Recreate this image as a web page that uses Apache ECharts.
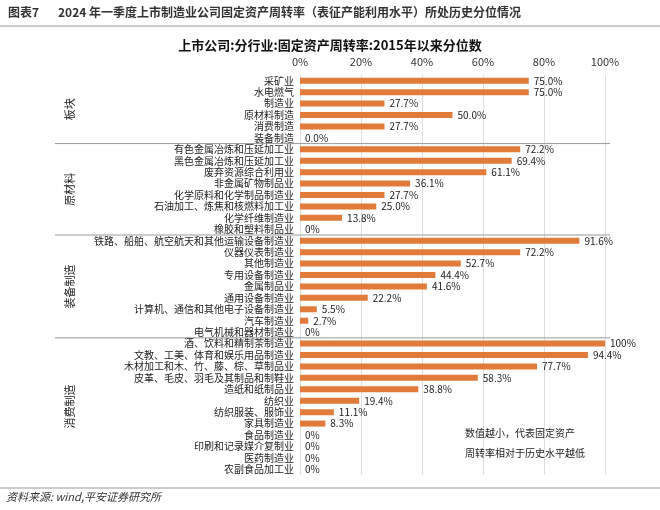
<!DOCTYPE html>
<html><head><meta charset="utf-8">
<script src="https://cdn.jsdelivr.net/npm/echarts@6/dist/echarts.min.js"></script>
<style>body{margin:0;background:#fff}#c{width:660px;height:510px}</style></head>
<body><div id="c"></div>
<script>
const categories=['采矿业','水电燃气','制造业','原材料制造','消费制造','装备制造',
'有色金属冶炼和压延加工业','黑色金属冶炼和压延加工业','废弃资源综合利用业','非金属矿物制品业','化学原料和化学制品制造业','石油加工、炼焦和核燃料加工业','化学纤维制造业','橡胶和塑料制品业',
'铁路、船舶、航空航天和其他运输设备制造业','仪器仪表制造业','其他制造业','专用设备制造业','金属制品业','通用设备制造业','计算机、通信和其他电子设备制造业','汽车制造业','电气机械和器材制造业',
'酒、饮料和精制茶制造业','文教、工美、体育和娱乐用品制造业','木材加工和木、竹、藤、棕、草制品业','皮革、毛皮、羽毛及其制品和制鞋业','造纸和纸制品业','纺织业','纺织服装、服饰业','家具制造业','食品制造业','印刷和记录媒介复制业','医药制造业','农副食品加工业'];
const values=[75.0,75.0,27.7,50.0,27.7,0.0,
72.2,69.4,61.1,36.1,27.7,25.0,13.8,0,
91.6,72.2,52.7,44.4,41.6,22.2,5.5,2.7,0,
100,94.4,77.7,58.3,38.8,19.4,11.1,8.3,0,0,0,0];
const valueLabels=['75.0%','75.0%','27.7%','50.0%','27.7%','0.0%',
'72.2%','69.4%','61.1%','36.1%','27.7%','25.0%','13.8%','0%',
'91.6%','72.2%','52.7%','44.4%','41.6%','22.2%','5.5%','2.7%','0%',
'100%','94.4%','77.7%','58.3%','38.8%','19.4%','11.1%','8.3%','0%','0%','0%','0%'];
const groups=[['板块',0,6],['原材料',6,14],['装备制造',14,23],['消费制造',23,35]];
const xTicks=[0,20,40,60,80,100];
const chart=echarts.init(document.getElementById('c'));
const F='"Noto Sans CJK SC",sans-serif';
chart.setOption({
 animation:false,
 grid:{left:300,right:55,top:75,bottom:35},
 xAxis:{type:'value',position:'top',min:0,max:100,interval:20,
  axisLabel:{formatter:v=>v+'%',fontSize:11,color:'#333',fontFamily:F},
  splitLine:{lineStyle:{color:'#ddd'}},axisLine:{show:false},axisTick:{show:false}},
 yAxis:{type:'category',inverse:true,data:categories,
  axisLabel:{fontSize:10,color:'#222',fontFamily:F,margin:6,interval:0},
  axisTick:{show:false},axisLine:{show:false}},
 series:[{type:'bar',data:values,barWidth:6,itemStyle:{color:'#E07B39'},
  label:{show:true,position:'right',fontSize:10,color:'#222',fontFamily:F,
   formatter:p=>valueLabels[p.dataIndex]}}]
});
const gr=[
 {type:'text',left:8,top:6,style:{text:'图表7',font:'bold 12px '+F,fill:'#333'}},
 {type:'text',left:58,top:6,style:{text:'2024 年一季度上市制造业公司固定资产周转率（表征产能利用水平）所处历史分位情况',font:'bold 12px '+F,fill:'#333'}},
 {type:'line',shape:{x1:0,y1:26,x2:660,y2:26},style:{stroke:'#999',lineWidth:1}},
 {type:'text',x:330,y:45,style:{text:'上市公司:分行业:固定资产周转率:2015年以来分位数',font:'bold 13px '+F,fill:'#111',align:'center',verticalAlign:'middle'}},
 {type:'line',shape:{x1:0,y1:488,x2:660,y2:488},style:{stroke:'#999',lineWidth:1}},
 {type:'text',left:6,top:491,style:{text:'资料来源: wind,平安证券研究所',font:'italic 11px '+F,fill:'#333'}},
 {type:'text',x:465,y:423,style:{text:'数值越小，代表固定资产\n周转率相对于历史水平越低',font:'10px '+F,fill:'#222',lineHeight:20}}
];
const yb=i=>{const a=chart.convertToPixel({yAxisIndex:0},0),b=chart.convertToPixel({yAxisIndex:0},1);return a+(b-a)*(i-0.5);};
groups.forEach(([name,s,e],k)=>{
 if(k>0) gr.push({type:'line',shape:{x1:55,y1:yb(s),x2:610,y2:yb(s)},style:{stroke:'#999',lineWidth:1}});
 gr.push({type:'text',x:70,y:(yb(s)+yb(e))/2,rotation:Math.PI/2,style:{text:name,font:'11px '+F,fill:'#222',align:'center',verticalAlign:'middle'}});
});
chart.setOption({graphic:gr});
</script></body></html>
